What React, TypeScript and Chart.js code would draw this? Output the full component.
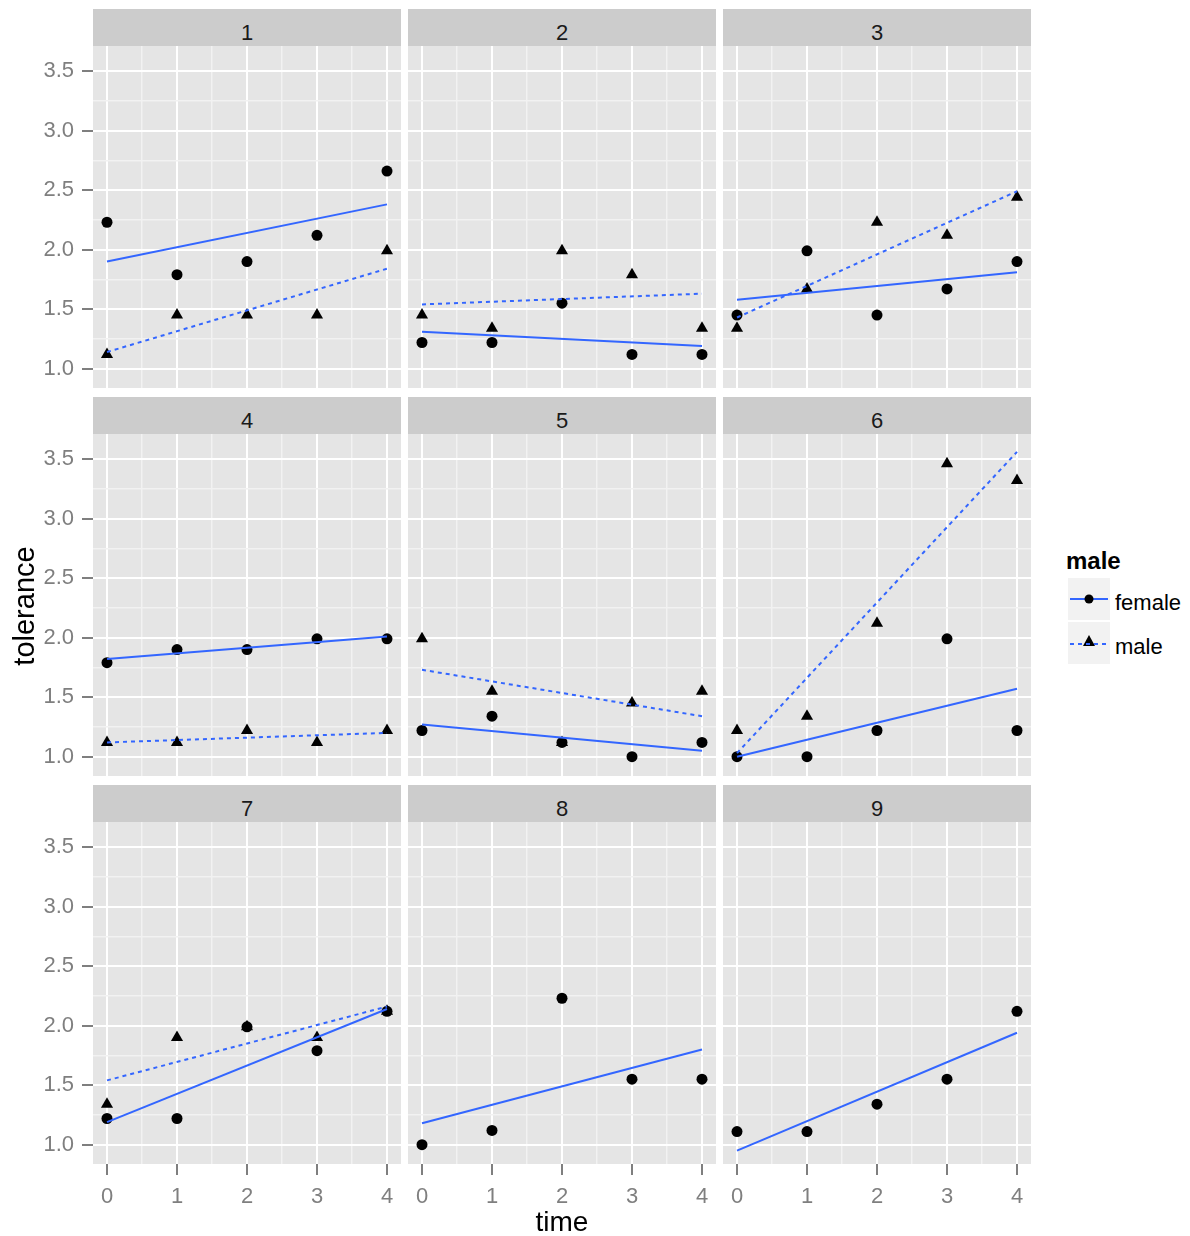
import React, { useEffect, useRef } from 'react';
import { Chart, registerables } from 'chart.js';
Chart.register(...registerables);

// ---------- data ----------
const panelLabels = ['1', '2', '3', '4', '5', '6', '7', '8', '9'];
const timePoints = [0, 1, 2, 3, 4];
const femaleTolerance: (number[] | null)[] = [
  [2.23, 1.79, 1.9, 2.12, 2.66],
  [1.22, 1.22, 1.55, 1.12, 1.12],
  [1.45, 1.99, 1.45, 1.67, 1.9],
  [1.79, 1.9, 1.9, 1.99, 1.99],
  [1.22, 1.34, 1.12, 1.0, 1.12],
  [1.0, 1.0, 1.22, 1.99, 1.22],
  [1.22, 1.22, 1.99, 1.79, 2.12],
  [1.0, 1.12, 2.23, 1.55, 1.55],
  [1.11, 1.11, 1.34, 1.55, 2.12],
];
const maleTolerance: (number[] | null)[] = [
  [1.12, 1.45, 1.45, 1.45, 1.99],
  [1.45, 1.34, 1.99, 1.79, 1.34],
  [1.34, 1.67, 2.23, 2.12, 2.44],
  [1.12, 1.12, 1.22, 1.12, 1.22],
  [1.99, 1.55, 1.12, 1.45, 1.55],
  [1.22, 1.34, 2.12, 3.46, 3.32],
  [1.34, 1.9, 1.99, 1.9, 2.12],
  null,
  null,
];
const fitTimes = [0, 4];
const femaleFitStart: (number | null)[] = [1.9, 1.31, 1.58, 1.82, 1.27, 1.0, 1.19, 1.18, 0.95];
const femaleFitEnd: (number | null)[] = [2.38, 1.19, 1.81, 2.01, 1.05, 1.57, 2.14, 1.8, 1.94];
const maleFitStart: (number | null)[] = [1.14, 1.54, 1.43, 1.12, 1.73, 1.03, 1.54, null, null];
const maleFitEnd: (number | null)[] = [1.84, 1.63, 2.49, 1.2, 1.34, 3.56, 2.16, null, null];
const yMajorTicks = [1.0, 1.5, 2.0, 2.5, 3.0, 3.5];
const yMinorTicks = [1.25, 1.75, 2.25, 2.75, 3.25];
const xMajorTicks = [0, 1, 2, 3, 4];
const xMinorTicks = [0.5, 1.5, 2.5, 3.5];
const legendTitle = 'male';
const legendLabels = ['female', 'male'];
const xTitle = 'time';
const yTitle = 'tolerance';

// ---------- layout / style ----------
const FONT = '"Liberation Sans", Arial, sans-serif';
const BLUE = '#3366FF';
const COL_LEFT = [93, 408, 723];
const PANEL_W = 308;
const PLOT_TOP = [46, 434, 822];
const PLOT_H = 342;
const STRIP_H = 37;
const X_MIN = -0.2;
const X_MAX = 4.2;
const Y_MIN = 0.838;
const Y_MAX = 3.71;
const BOTTOM_EXTRA = 60;

Chart.defaults.font.family = FONT;

const bgPlugin = {
  id: 'panelBg',
  beforeDraw(chart: any) {
    const { ctx, chartArea } = chart;
    ctx.save();
    ctx.fillStyle = '#E5E5E5';
    ctx.fillRect(chartArea.left, chartArea.top, chartArea.right - chartArea.left, chartArea.bottom - chartArea.top);
    ctx.restore();
  },
};

const near = (arr: number[], v: number) => arr.some((a) => Math.abs(a - v) < 1e-6);

function Panel({ index }: { index: number }) {
  const ref = useRef<HTMLCanvasElement>(null);
  const r = Math.floor(index / 3);
  const c = index % 3;
  const leftExtra = c === 0 ? COL_LEFT[0] : 0;
  const bottomExtra = r === 2 ? BOTTOM_EXTRA : 0;
  const width = PANEL_W + leftExtra;
  const height = PLOT_H + bottomExtra;

  useEffect(() => {
    const datasets: any[] = [];
    const fs = femaleFitStart[index];
    const fe = femaleFitEnd[index];
    if (fs != null && fe != null) {
      datasets.push({
        label: 'female fit',
        data: fitTimes.map((t, k) => ({ x: t, y: k === 0 ? fs : fe })),
        showLine: true,
        borderColor: BLUE,
        borderWidth: 2,
        pointRadius: 0,
        order: 0,
      });
    }
    const ms = maleFitStart[index];
    const me = maleFitEnd[index];
    if (ms != null && me != null) {
      datasets.push({
        label: 'male fit',
        data: fitTimes.map((t, k) => ({ x: t, y: k === 0 ? ms : me })),
        showLine: true,
        borderColor: BLUE,
        borderWidth: 2,
        borderDash: [4, 4],
        pointRadius: 0,
        order: 0,
      });
    }
    const fv = femaleTolerance[index];
    if (fv) {
      datasets.push({
        label: 'female',
        data: timePoints.map((t, k) => ({ x: t, y: fv[k] })),
        pointStyle: 'circle',
        pointRadius: 5.5,
        pointBorderWidth: 0,
        backgroundColor: '#000000',
        borderColor: '#000000',
        order: 1,
      });
    }
    const mv = maleTolerance[index];
    if (mv) {
      datasets.push({
        label: 'male',
        data: timePoints.map((t, k) => ({ x: t, y: mv[k] })),
        pointStyle: 'triangle',
        pointRadius: 7,
        pointBorderWidth: 0,
        backgroundColor: '#000000',
        borderColor: '#000000',
        order: 1,
      });
    }

    const chart = new Chart(ref.current as HTMLCanvasElement, {
      type: 'scatter',
      data: { datasets },
      plugins: [bgPlugin],
      options: {
        animation: false,
        responsive: false,
        devicePixelRatio: 1,
        events: [],
        layout: { padding: 0, autoPadding: false },
        plugins: { legend: { display: false }, tooltip: { enabled: false }, title: { display: false } },
        scales: {
          x: {
            type: 'linear',
            position: 'bottom',
            min: X_MIN,
            max: X_MAX,
            bounds: 'data',
            afterBuildTicks: (s: any) => {
              s.ticks = [...xMajorTicks, ...xMinorTicks].sort((a, b) => a - b).map((v) => ({ value: v }));
            },
            afterFit: (s: any) => {
              s.height = bottomExtra;
              s.paddingLeft = 0;
              s.paddingRight = 0;
              s.paddingTop = 0;
              s.paddingBottom = 0;
            },
            border: { display: false },
            grid: {
              color: (ctx: any) => (near(xMajorTicks, ctx.tick.value) ? '#FFFFFF' : '#F2F2F2'),
              lineWidth: (ctx: any) => (near(xMajorTicks, ctx.tick.value) ? 2 : 1.5),
              drawTicks: r === 2,
              tickLength: 11,
              tickWidth: 2,
              tickColor: (ctx: any) => (near(xMajorTicks, ctx.tick.value) ? '#7F7F7F' : 'rgba(0,0,0,0)'),
            },
            ticks: {
              display: r === 2,
              autoSkip: false,
              maxRotation: 0,
              minRotation: 0,
              padding: 9,
              color: '#7F7F7F',
              font: { size: 22, family: FONT },
              callback: (v: any) => (near(xMajorTicks, Number(v)) ? String(Math.round(Number(v))) : ''),
            },
          },
          y: {
            type: 'linear',
            position: 'left',
            min: Y_MIN,
            max: Y_MAX,
            bounds: 'data',
            afterBuildTicks: (s: any) => {
              s.ticks = [...yMajorTicks, ...yMinorTicks].sort((a, b) => a - b).map((v) => ({ value: v }));
            },
            afterFit: (s: any) => {
              s.width = leftExtra;
              s.paddingLeft = 0;
              s.paddingRight = 0;
              s.paddingTop = 0;
              s.paddingBottom = 0;
            },
            border: { display: false },
            grid: {
              color: (ctx: any) => (near(yMajorTicks, ctx.tick.value) ? '#FFFFFF' : '#F2F2F2'),
              lineWidth: (ctx: any) => (near(yMajorTicks, ctx.tick.value) ? 2 : 1.5),
              drawTicks: c === 0,
              tickLength: 11,
              tickWidth: 2,
              tickColor: (ctx: any) => (near(yMajorTicks, ctx.tick.value) ? '#7F7F7F' : 'rgba(0,0,0,0)'),
            },
            ticks: {
              display: c === 0,
              autoSkip: false,
              padding: 8,
              color: '#7F7F7F',
              font: { size: 22, family: FONT },
              callback: (v: any) => (near(yMajorTicks, Number(v)) ? Number(v).toFixed(1) : ''),
            },
          },
        },
      } as any,
    });
    return () => chart.destroy();
  }, [index]);

  return (
    <>
      <div
        style={{
          position: 'absolute',
          left: COL_LEFT[c],
          top: PLOT_TOP[r] - STRIP_H,
          width: PANEL_W,
          height: STRIP_H,
          boxSizing: 'border-box',
          paddingTop: 10,
          lineHeight: '27px',
          background: '#CCCCCC',
          color: '#1A1A1A',
          fontSize: 22,
          textAlign: 'center',
          fontFamily: FONT,
        }}
      >
        {panelLabels[index]}
      </div>
      <canvas
        ref={ref}
        width={width}
        height={height}
        style={{ position: 'absolute', left: COL_LEFT[c] - leftExtra, top: PLOT_TOP[r], width, height }}
      />
    </>
  );
}

function Legend() {
  return (
    <>
      <div
        style={{
          position: 'absolute',
          left: 1066,
          top: 546,
          fontSize: 24,
          fontWeight: 'bold',
          lineHeight: '30px',
          fontFamily: FONT,
          color: '#000',
        }}
      >
        {legendTitle}
      </div>
      <svg style={{ position: 'absolute', left: 1068, top: 578 }} width={42} height={87}>
        <rect x={0} y={0} width={42} height={42} fill="#F2F2F2" />
        <rect x={0} y={44} width={42} height={42} fill="#F2F2F2" />
        <line x1={2} x2={40} y1={21} y2={21} stroke={BLUE} strokeWidth={2} />
        <circle cx={21} cy={21} r={4.5} fill="#000" />
        <polygon points="21,57 27,68 15,68" fill="#000" />
        <line x1={2} x2={40} y1={66} y2={66} stroke={BLUE} strokeWidth={2} strokeDasharray="4 4" />
      </svg>
      {legendLabels.map((lab, i) => (
        <div
          key={lab}
          style={{
            position: 'absolute',
            left: 1115,
            top: 588 + i * 44,
            fontSize: 22,
            lineHeight: '30px',
            fontFamily: FONT,
            color: '#000',
          }}
        >
          {lab}
        </div>
      ))}
    </>
  );
}

export default function App() {
  return (
    <div
      style={{
        position: 'absolute',
        left: 0,
        top: 0,
        width: 1190,
        height: 1236,
        background: '#FFFFFF',
        fontFamily: FONT,
        overflow: 'hidden',
      }}
    >
      {panelLabels.map((_, i) => (
        <Panel key={i} index={i} />
      ))}
      <div
        style={{
          position: 'absolute',
          left: 562 - 100,
          width: 200,
          top: 1205,
          textAlign: 'center',
          fontSize: 28,
          lineHeight: '34px',
          color: '#000',
          fontFamily: FONT,
        }}
      >
        {xTitle}
      </div>
      <div
        style={{
          position: 'absolute',
          left: 24 - 100,
          top: 606 - 17,
          width: 200,
          height: 34,
          textAlign: 'center',
          fontSize: 29,
          lineHeight: '34px',
          color: '#000',
          fontFamily: FONT,
          transform: 'rotate(-90deg)',
        }}
      >
        {yTitle}
      </div>
      <Legend />
    </div>
  );
}
